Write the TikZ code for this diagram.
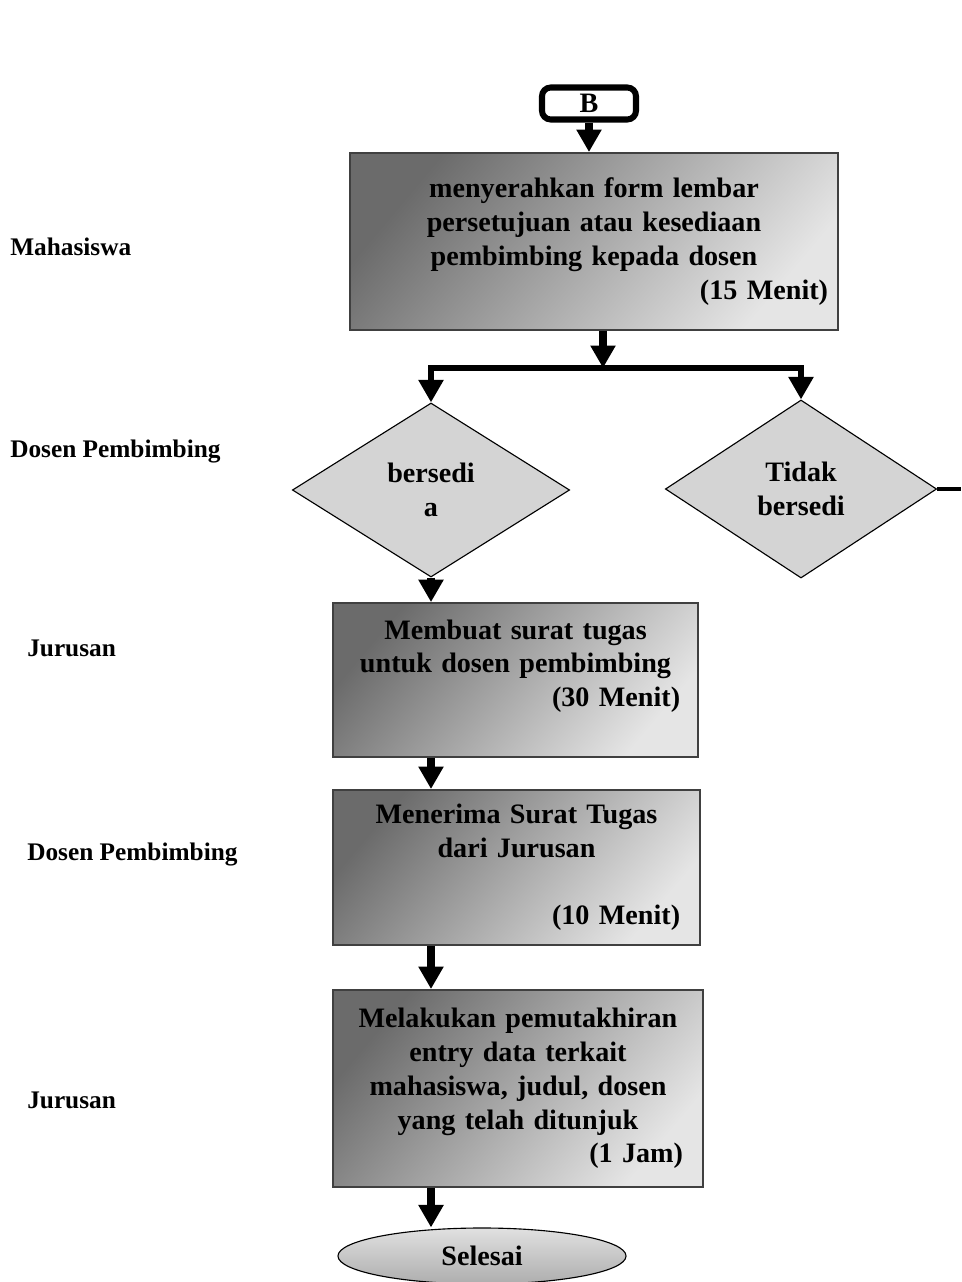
\documentclass[tikz,border=0pt]{standalone}
\usepackage{fontspec}
\setmainfont{Liberation Serif}
\usetikzlibrary{shapes.geometric, positioning, arrows.meta}

\begin{document}
\begin{tikzpicture}[x=0.025cm, y=-0.025cm, font=\bfseries\fontsize{20}{24}\selectfont]
        \tikzset{
            process/.style={rectangle, draw=black!75, line width=1.2pt, top color=black!58, bottom color=black!10, shading angle=50, align=center, inner ysep=0pt},
            decision/.style={diamond, draw, line width=0.8pt, fill=black!17, align=center, inner sep=0pt},
            lane/.style={anchor=west, inner sep=0pt, font=\bfseries\fontsize{18}{22}\selectfont},
            flow/.style={line width=5.5pt, -{Triangle[length=16pt, width=17pt]}},
            branch/.style={line width=4.3pt, -{Triangle[length=16pt, width=17pt]}}
        }
        \useasboundingbox (0,0) rectangle (961,1282);

        % swimlane labels
        \node[lane] (lmhs) at (10,247) {Mahasiswa};
        \node[lane] (ldsn1) at (10,452) {Dosen Pembimbing};
        \node[lane] (ljur1) at (27,648) {Jurusan};
        \node[lane] (ldsn2) at (27,855) {Dosen Pembimbing};
        \node[lane] (ljur2) at (27,1100) {Jurusan};

        \node[draw, line width=4.3pt, rounded corners=0.22cm, fill=white, minimum width=2.35cm, minimum height=0.8cm, inner sep=0pt, font=\bfseries\fontsize{20}{22}\selectfont] (conB) at (589,103.5) {B};
        \node[process, minimum width=12.2cm, minimum height=4.43cm, text width=11.7cm, inner xsep=0.25cm] (serah) at (594,241.5)
            {menyerahkan form lembar\\ persetujuan atau kesediaan\\ pembimbing kepada dosen\\ \hspace*{\fill}(15 Menit)};

        \node[decision, minimum width=6.93cm, minimum height=4.35cm] (ya) at (431,490) {bersedi\\ a};
        \node[decision, minimum width=6.78cm, minimum height=4.45cm] (tidak) at (801,489) {Tidak\\ bersedi};

        \node[process, minimum width=9.13cm, minimum height=3.85cm, text width=8.23cm, inner xsep=0.45cm] (surat) at (515.5,680)
            {Membuat surat tugas\\ untuk dosen pembimbing\\ \hspace*{\fill}(30 Menit)\\ \mbox{}};
        \node[process, minimum width=9.18cm, minimum height=3.88cm, text width=8.18cm, inner xsep=0.5cm] (terima) at (516.5,867.5)
            {Menerima Surat Tugas\\ dari Jurusan\\ \mbox{}\\ \hspace*{\fill}(10 Menit)};
        \node[process, minimum width=9.25cm, minimum height=4.93cm, text width=8.25cm, inner xsep=0.5cm] (entri) at (518,1088.5)
            {Melakukan pemutakhiran\\ entry data terkait\\ mahasiswa, judul, dosen\\ yang telah ditunjuk\\ \hspace*{\fill}(1 Jam)};

        \node[ellipse, draw, line width=0.8pt, top color=black!12, bottom color=black!32, minimum width=7.2cm, minimum height=1.4cm] (selesai) at (482,1256) {Selesai};

        \coordinate (cabang) at (603,368);
        \coordinate (keluar) at (961,489);

        \draw[flow] (conB.south) -- (conB.south |- serah.north);
        \draw[flow] (serah.south -| cabang) -- (cabang);
        \draw[branch] (cabang) -| (ya.north);
        \draw[branch] (cabang) -| (tidak.north);
        \draw[line width=3pt] (tidak.east) -- (keluar);
        \draw[flow] (ya.south) -- (ya.south |- surat.north);
        \foreach \a/\b in {surat/terima, terima/entri, entri/selesai}
            \draw[flow] (\a.south -| ya.south) -- (\b.north -| ya.south);
    \end{tikzpicture}
\end{document}
